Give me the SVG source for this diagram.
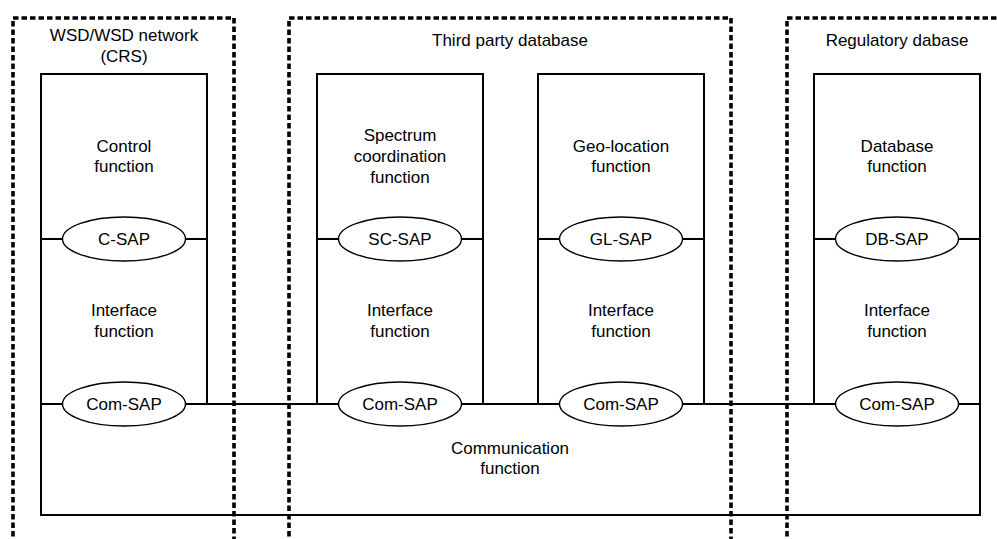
<svg xmlns="http://www.w3.org/2000/svg" width="997" height="539" viewBox="0 0 997 539">
<style>
text{font-family:"Liberation Sans",Arial,sans-serif;font-size:17px;fill:#000;text-anchor:middle}
.box{fill:none;stroke:#000;stroke-width:2}
.ln{stroke:#000;stroke-width:2;fill:none}
.sap{fill:#fff;stroke:#000;stroke-width:1.4}
.dash{fill:none;stroke:#000;stroke-width:3.6;stroke-dasharray:5.5 3}
</style>
<rect width="997" height="539" fill="#fff"/>
<g id="connectors">
<line class="ln" x1="41" y1="404" x2="980" y2="404"/>
<line class="ln" x1="41" y1="239" x2="207" y2="239"/>
<line class="ln" x1="317" y1="239" x2="483" y2="239"/>
<line class="ln" x1="538" y1="239" x2="704" y2="239"/>
<line class="ln" x1="814" y1="239" x2="980" y2="239"/>
</g>
<g id="communication">
<rect class="box" x="41" y="404" width="939" height="111"/>
<text x="510" y="454">Communication</text>
<text x="510" y="474">function</text>
</g>
<g id="wsd-node">
<rect class="box" x="41" y="74" width="166" height="330"/>
<text x="124" y="152">Control</text>
<text x="124" y="172">function</text>
<text x="124" y="316">Interface</text>
<text x="124" y="337">function</text>
<g id="c-sap"><ellipse class="sap" cx="124" cy="239" rx="61.5" ry="22"/><text x="124" y="245">C-SAP</text></g>
<g id="wsd-com-sap"><ellipse class="sap" cx="124" cy="404" rx="61.5" ry="22"/><text x="124" y="410">Com-SAP</text></g>
</g>
<g id="sc-node">
<rect class="box" x="317" y="74" width="166" height="330"/>
<text x="400" y="141">Spectrum</text>
<text x="400" y="162">coordination</text>
<text x="400" y="183">function</text>
<text x="400" y="316">Interface</text>
<text x="400" y="337">function</text>
<g id="sc-sap"><ellipse class="sap" cx="400" cy="239" rx="61.5" ry="22"/><text x="400" y="245">SC-SAP</text></g>
<g id="sc-com-sap"><ellipse class="sap" cx="400" cy="404" rx="61.5" ry="22"/><text x="400" y="410">Com-SAP</text></g>
</g>
<g id="gl-node">
<rect class="box" x="538" y="74" width="166" height="330"/>
<text x="621" y="152">Geo-location</text>
<text x="621" y="172">function</text>
<text x="621" y="316">Interface</text>
<text x="621" y="337">function</text>
<g id="gl-sap"><ellipse class="sap" cx="621" cy="239" rx="61.5" ry="22"/><text x="621" y="245">GL-SAP</text></g>
<g id="gl-com-sap"><ellipse class="sap" cx="621" cy="404" rx="61.5" ry="22"/><text x="621" y="410">Com-SAP</text></g>
</g>
<g id="db-node">
<rect class="box" x="814" y="74" width="166" height="330"/>
<text x="897" y="152">Database</text>
<text x="897" y="172">function</text>
<text x="897" y="316">Interface</text>
<text x="897" y="337">function</text>
<g id="db-sap"><ellipse class="sap" cx="897" cy="239" rx="61.5" ry="22"/><text x="897" y="245">DB-SAP</text></g>
<g id="db-com-sap"><ellipse class="sap" cx="897" cy="404" rx="61.5" ry="22"/><text x="897" y="410">Com-SAP</text></g>
</g>
<g id="wsd-network">
<path class="dash" d="M13,545 V18 H234 V545"/>
<text x="124" y="41">WSD/WSD network</text>
<text x="124" y="62">(CRS)</text>
</g>
<g id="third-party-database">
<path class="dash" d="M289,545 V18 H731 V545"/>
<text x="510" y="46">Third party database</text>
</g>
<g id="regulatory-database">
<path class="dash" d="M787,545 V18 H1005"/>
<text x="897" y="46">Regulatory dabase</text>
</g>
</svg>
